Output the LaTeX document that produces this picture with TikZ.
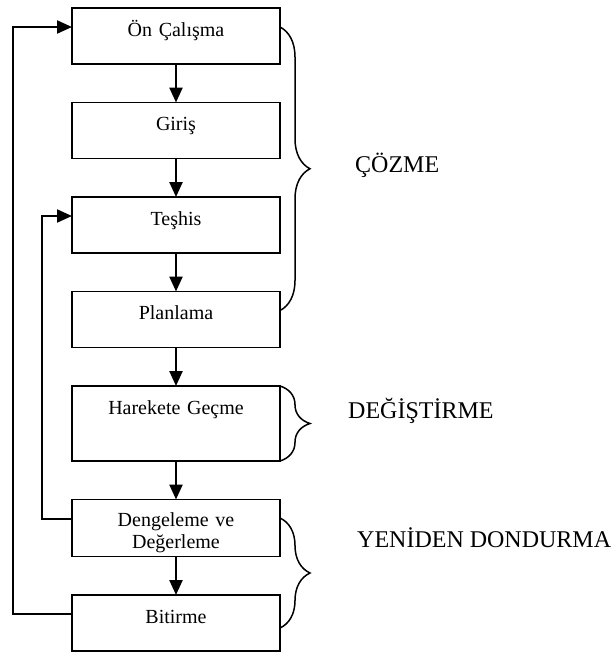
\documentclass[tikz,border=0pt]{standalone}
\usepackage{fontspec}
\setmainfont{Liberation Serif}
\usetikzlibrary{arrows.meta, positioning, decorations.pathreplacing}

\begin{document}
\begin{tikzpicture}[>={Triangle[length=15pt, width=13pt]},
    node distance=38.5pt,
    box/.style={draw, line width=1.5pt, text width=208pt, align=center,
                inner sep=0pt, outer sep=0pt, text height=28pt, text depth=28pt,
                font=\fontsize{20}{22}\selectfont},
    lbl/.style={anchor=base west, inner sep=0pt, font=\fontsize{24}{28}\selectfont},
    arr/.style={->, line width=2.4pt},
    fb/.style={->, line width=2pt},
    brc/.style={decorate, decoration={brace, amplitude=30pt}, line width=1.5pt}
  ]
  \useasboundingbox (0,0) rectangle (612pt,-654pt);

  \node[box, anchor=north] (onc) at (176pt,-8pt) {Ön Çalışma};
  \node[box, below=of onc]  (gir)  {Giriş};
  \node[box, below=of gir]  (tes)  {Teşhis};
  \node[box, below=of tes]  (plan) {Planlama};
  \node[box, below=of plan, text depth=47pt] (har) {Harekete Geçme};
  \node[box, below=of har, text height=27pt, text depth=30pt] (deng) {Dengeleme ve\\Değerleme};
  \node[box, below=of deng] (bit)  {Bitirme};

  \draw[arr] (onc)  -- (gir);
  \draw[arr] (gir)  -- (tes);
  \draw[arr] (tes)  -- (plan);
  \draw[arr] (plan) -- (har);
  \draw[arr] (har)  -- (deng);
  \draw[arr] (deng) -- (bit);

  % geri besleme
  \draw[fb] ([yshift=9pt]bit.west)  -- ++(-59pt,0) |- ([yshift=9pt]onc.west);
  \draw[fb] ([yshift=9pt]deng.west) -- ++(-30pt,0) |- ([yshift=9pt]tes.west);

  % evreler
  \draw[brc] ([yshift=9pt]onc.east) -- ([yshift=9pt]plan.east);
  \draw[brc] (har.north east) -- (har.south east);
  \draw[brc] ([yshift=10pt]deng.east) -- ([yshift=-5pt]bit.east);

  \node[lbl] (cozme) at (355pt,-172pt) {ÇÖZME};
  \node[lbl] (degis) at (348pt,-418pt) {DEĞİŞTİRME};
  \node[lbl] (yeni)  at (357pt,-547pt) {YENİDEN DONDURMA};

\end{tikzpicture}
\end{document}
